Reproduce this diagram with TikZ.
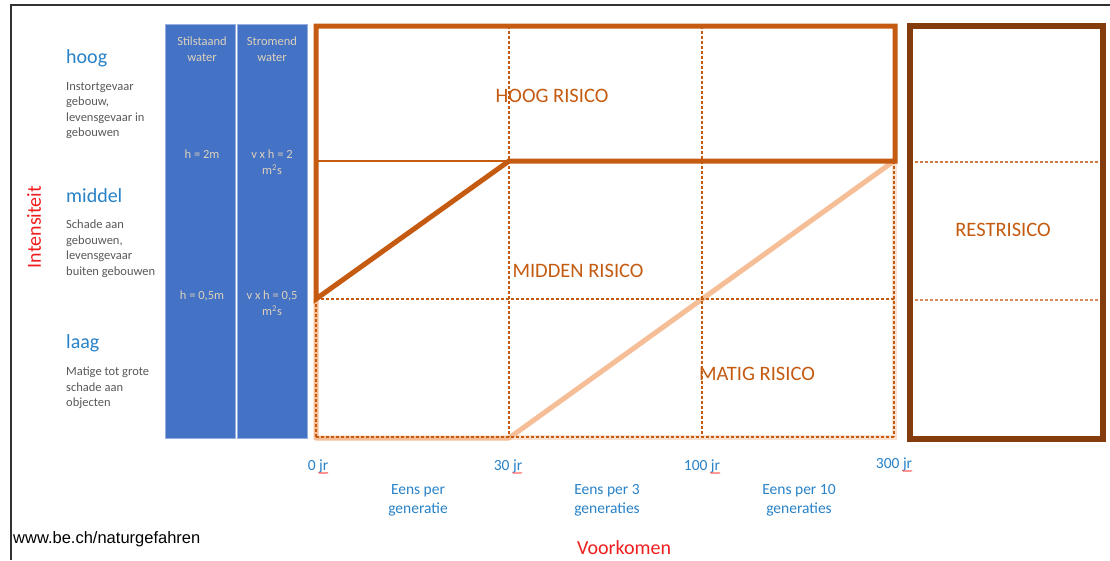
\documentclass[tikz,border=0pt]{standalone}
\usepackage{fontspec}
\setmainfont{Carlito}
\newfontfamily\urlfont{Liberation Sans}
\usetikzlibrary{calc,decorations.pathmorphing}
\definecolor{lblblue}{RGB}{40,130,200}
\definecolor{colblue}{RGB}{68,114,196}
\definecolor{colborder}{RGB}{150,175,220}
\definecolor{coltext}{RGB}{222,210,188}
\definecolor{greytxt}{RGB}{89,89,89}
\definecolor{riskorange}{RGB}{197,90,17}
\definecolor{lightorange}{RGB}{246,190,150}
\definecolor{faintorange}{RGB}{251,226,208}
\definecolor{restbrown}{RGB}{132,60,12}
\definecolor{axisred}{RGB}{240,30,30}
\definecolor{framegrey}{RGB}{50,50,50}
\tikzset{
  x=1pt,y=-1pt,
  levellbl/.style={font=\fontsize{20}{24}\selectfont, text=lblblue, inner sep=0, anchor=base west},
  desclbl/.style={font=\fontsize{12.5}{15.5}\selectfont, text=greytxt, inner sep=0, anchor=north west, align=left},
  colbox/.style={fill=colblue, draw=colborder, line width=0.6},
  coltxt/.style={font=\fontsize{12.5}{16}\selectfont, text=coltext, inner sep=0, anchor=north, align=center},
  risklbl/.style={font=\fontsize{20.5}{24}\selectfont, text=riskorange, inner sep=0},
  gridline/.style={draw=riskorange, line width=1.2, dash pattern=on 3pt off 2pt},
  thinsolid/.style={draw=riskorange, line width=1.3},
  thickrisk/.style={draw=riskorange, line width=5, line join=miter},
  lowrisk/.style={draw=lightorange, line width=5, line join=round},
  faintband/.style={draw=faintorange, line width=5},
  axislbl/.style={font=\fontsize{15.5}{19}\selectfont, text=lblblue, inner sep=0, anchor=base},
  freqlbl/.style={font=\fontsize{15.5}{19.5}\selectfont, text=lblblue, inner sep=0, anchor=north, align=center},
  axistitle/.style={font=\fontsize{20}{24}\selectfont, text=axisred, inner sep=0},
  spell/.style={draw=red!80, line width=0.5, decorate, decoration={snake, amplitude=0.6pt, segment length=2pt}}
}
\begin{document}
\begin{tikzpicture}
\useasboundingbox (0,0) rectangle (1110,560);
\fill[white] (0,0) rectangle (1110,560);
% outer frame
\draw[framegrey, line width=1.4] (11,560) -- (11,5) -- (1110,5);

% blue columns
\path[colbox] (165,24) rectangle (235,438);
\path[colbox] (237,24) rectangle (307,438);
\node[coltxt] (stil) at (202,37) {Stilstaand\\water};
\node[coltxt] (strom) at (272,37) {Stromend\\water};
\node[coltxt] (h2) at (202,150) {h = 2m};
\node[coltxt] (vh2) at (272,150) {v x h = 2\\m\textsuperscript{2}s};
\node[coltxt] (h05) at (202,291) {h = 0,5m};
\node[coltxt] (vh05) at (272,291) {v x h = 0,5\\m\textsuperscript{2}s};

% left labels
\node[levellbl] (hoog) at (66,63) {hoog};
\node[desclbl] (dhoog) at (66,82) {Instortgevaar\\gebouw,\\levensgevaar in\\gebouwen};
\node[levellbl] (middel) at (66,202) {middel};
\node[desclbl] (dmiddel) at (66,220) {Schade aan\\gebouwen,\\levensgevaar\\buiten gebouwen};
\node[levellbl] (laag) at (66,348) {laag};
\node[desclbl] (dlaag) at (66,367) {Matige tot grote\\schade aan\\objecten};
\node[axistitle, rotate=90] (intens) at (34,227) {Intensiteit};

% grid coordinates
\coordinate (g00) at (316,26);
\coordinate (g10) at (509,26);
\coordinate (g20) at (702,26);
\coordinate (g30) at (895,26);
\coordinate (g01) at (316,161);
\coordinate (g11) at (509,161);
\coordinate (g31) at (895,161);
\coordinate (g02) at (316,299);
\coordinate (g32) at (894,299);
\coordinate (g03) at (316,437);
\coordinate (g13) at (509,437);
\coordinate (g23) at (702,437);
\coordinate (g33) at (894,437);
\coordinate (g3m) at (894,161);

% low risk (light) outlines
\draw[faintband] (g13) -- (g33) -- (g3m);
\draw[lowrisk] (g02) -- ($(g03)+(0,1)$) -- ($(g13)+(0,1)$) -- (g3m);

% dashed grid
\draw[gridline] (g10) -- (g13);
\draw[gridline] (g20) -- (g23);
\draw[gridline] (g02) -- (g32);
\draw[gridline] (g03) -- (g33);
\draw[gridline] (g3m) -- (g33);
\draw[gridline] (g02) -- (g03);
\draw[thinsolid] (g01) -- (g11);

% high risk outline
\draw[thickrisk] (g00) -- (g30) -- (g31) -- (g11) -- (g02) -- cycle;

% risk labels
\node[risklbl] (hoogr) at (552,96) {HOOG RISICO};
\node[risklbl] (midr) at (578,271) {MIDDEN RISICO};
\node[risklbl] (matr) at (757,374) {MATIG RISICO};

% rest risk box
\draw[gridline, draw=riskorange!80] (910,162) -- (1103,162);
\draw[gridline, draw=riskorange!70] (910,300) -- (1103,300);
\draw[draw=restbrown, line width=5.5] (910,26) rectangle (1103,439);
\node[risklbl] (restr) at (1003,230) {RESTRISICO};

% axis labels
\node[axislbl] (t0) at (318,470) {0 jr};
\node[axislbl] (t30) at (508,470) {30 jr};
\node[axislbl] (t100) at (702,470) {100 jr};
\node[axislbl] (t300) at (894,468) {300 jr};
\foreach \n in {t0,t30,t100,t300}{
  \draw[spell] ($(\n.base east)+(-10,3)$) -- ($(\n.base east)+(0,3)$);
}
\node[freqlbl] (f1) at (418,484) {Eens per\\generatie};
\node[freqlbl] (f2) at (607,484) {Eens per 3\\generaties};
\node[freqlbl] (f3) at (799,484) {Eens per 10\\generaties};
\node[axistitle, anchor=base] (voork) at (624,554) {Voorkomen};

% source
\node[font=\urlfont\fontsize{16.5}{19}\selectfont, inner sep=0, anchor=base west] (src) at (13,543) {www.be.ch/naturgefahren};
\end{tikzpicture}
\end{document}
